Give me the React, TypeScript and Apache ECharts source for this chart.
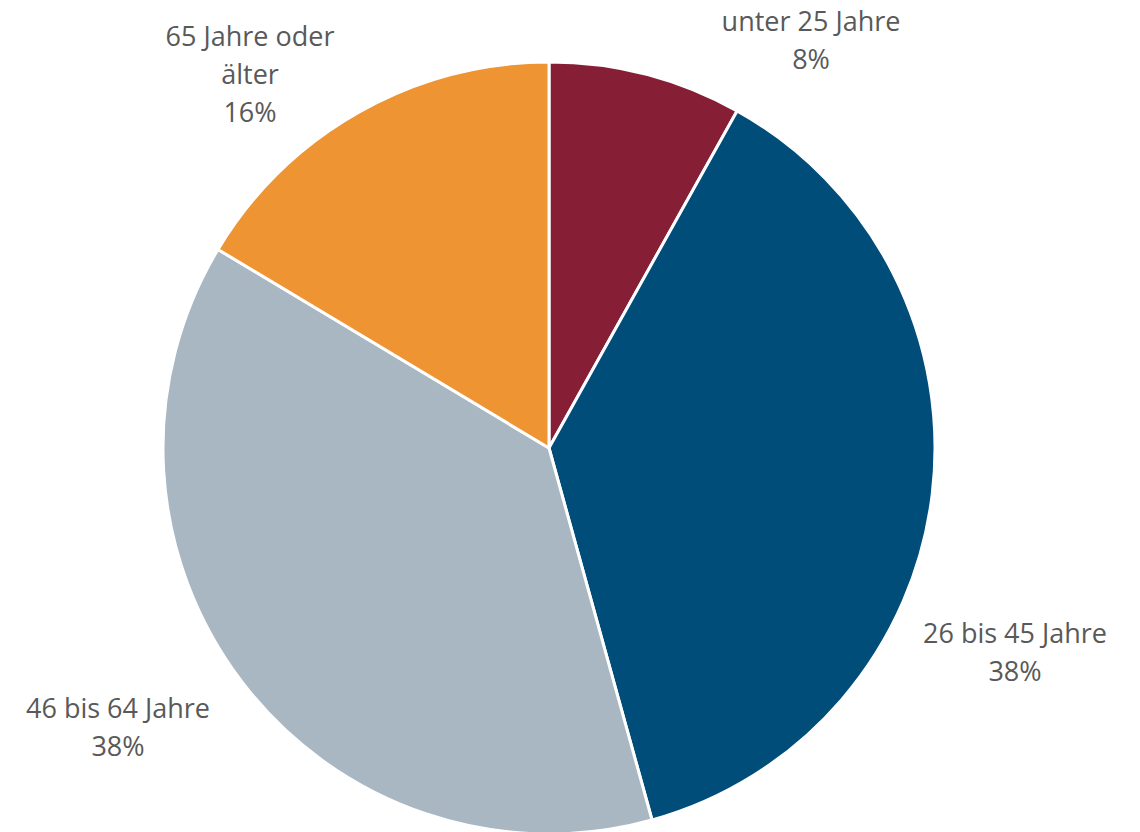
import React, { useEffect, useRef } from "react";
import * as echarts from "echarts";

const categories = ["unter 25 Jahre", "26 bis 45 Jahre", "46 bis 64 Jahre", "65 Jahre oder\nälter"];
const values = [8.1, 37.6, 37.9, 16.4];
const colors = ["#861F36", "#004D7A", "#A9B7C3", "#EF9433"];
const labelCenters = [
  [811, 39],
  [1015, 651],
  [118, 726],
  [250, 73],
];

export default function App() {
  const ref = useRef<HTMLDivElement>(null);
  useEffect(() => {
    document.body.style.margin = "0";
    const chart = echarts.init(ref.current!, null, { renderer: "svg" });
    chart.setOption({
      animation: false,
      backgroundColor: "#ffffff",
      series: [
        {
          type: "pie",
          center: [549, 448],
          radius: 386,
          startAngle: 90,
          clockwise: true,
          data: categories.map((name, i) => ({
            name,
            value: values[i],
            itemStyle: { color: colors[i] },
          })),
          itemStyle: { borderColor: "#ffffff", borderWidth: 3 },
          label: {
            show: true,
            position: "outside",
            formatter: (p: any) => `${p.name}\n${Math.round(p.percent)}%`,
            fontFamily: "Open Sans",
            fontSize: 27,
            lineHeight: 38,
            color: "#595959",
            align: "center",
            overflow: "none",
          },
          labelLine: { show: false },
          labelLayout: (params: any) => ({
            x: labelCenters[params.dataIndex][0],
            y: labelCenters[params.dataIndex][1],
            align: "center",
            verticalAlign: "middle",
          }),
        },
      ],
    });
    return () => chart.dispose();
  }, []);
  return <div ref={ref} style={{ width: 1140, height: 832 }} />;
}
